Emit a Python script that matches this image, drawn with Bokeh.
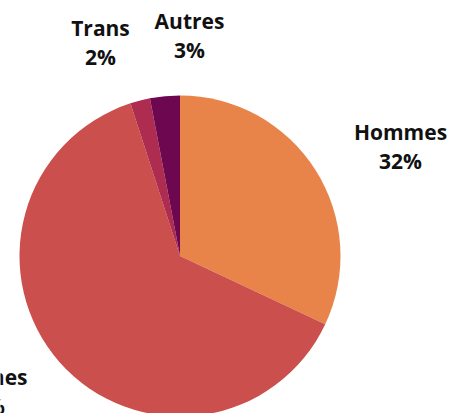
import math
from bokeh.plotting import figure
from bokeh.models import Range1d, ColumnDataSource
from bokeh.core.properties import value
from bokeh.embed import file_html
from bokeh.resources import INLINE

# Data
categories = ["Hommes", "Femmes", "Trans", "Autres"]
shares = [32, 63, 2, 3]
colors = ["#E8834A", "#CB4F4C", "#AE2C50", "#6D0850"]
labels_pct = ["32%", "63%", "2%", "3%"]

# Layout (page pixels, y measured from top)
W, H = 461, 413
cx, cy, r = 179.5, 255.5, 160.5
label_pos = {  # centre x, baseline of first line
    "Hommes": (400, 131),
    "Femmes": (-17, 376),
    "Trans": (100, 27),
    "Autres": (189, 20),
}
line_gap = 29

total = sum(shares)
starts, ends = [], []
acc = 0.0
for s in shares:
    starts.append(math.pi / 2 - acc / total * 2 * math.pi)
    acc += s
    ends.append(math.pi / 2 - acc / total * 2 * math.pi)

p = figure(width=W, height=H, output_backend="svg", toolbar_location=None,
           x_range=Range1d(0, W), y_range=Range1d(0, H),
           min_border=0, min_border_left=0, min_border_right=0,
           min_border_top=0, min_border_bottom=0)
p.axis.visible = False
p.grid.visible = False
p.outline_line_color = None
p.background_fill_color = "white"
p.border_fill_color = "white"

src = ColumnDataSource(dict(cat=categories, start=starts, end=ends, color=colors))
p.wedge(x=cx, y=H - cy, radius=r, start_angle="start", end_angle="end",
        direction="clock", fill_color="color", line_color=None, source=src)

lx = [label_pos[c][0] for c in categories]
ly1 = [H - label_pos[c][1] for c in categories]
ly2 = [H - label_pos[c][1] - line_gap for c in categories]
tsrc = dict(x=lx, y1=ly1, y2=ly2, name=categories, pct=labels_pct)
tsrc = ColumnDataSource(tsrc)
for ycol, tcol in (("y1", "name"), ("y2", "pct")):
    p.text(x="x", y=ycol, text=tcol, source=tsrc, text_align="center",
           text_baseline="alphabetic", text_font=value("Open Sans"),
           text_font_style="bold", text_font_size="21px", text_color="#111111")

open("out.html", "w").write(file_html(p, INLINE))
